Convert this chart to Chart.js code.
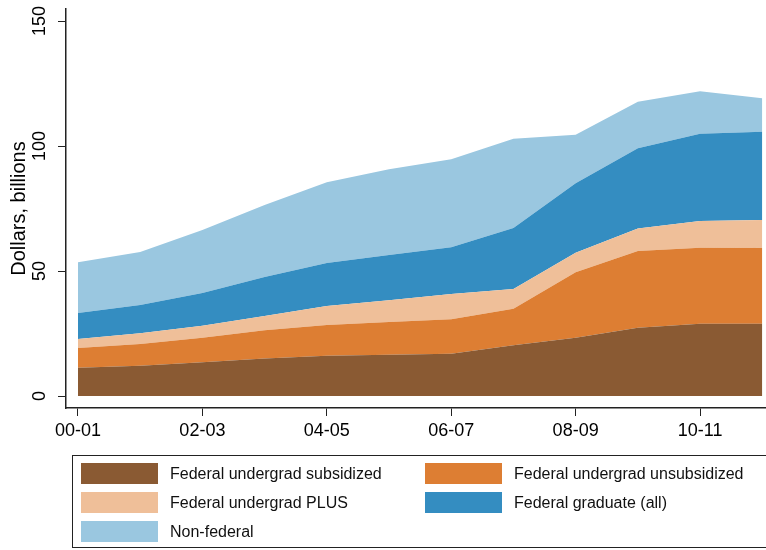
<!DOCTYPE html>
<html lang="en">
<head>
<meta charset="UTF-8">
<title>Student loans by type</title>
<style>
  body { margin: 0; background: #fff; }
  #wrap { position: relative; width: 766px; height: 550px; overflow: hidden; }
  #legend {
    position: absolute; left: 72px; top: 455px; width: 700px; height: 93px;
    border: 1.5px solid #222; box-sizing: border-box;
    font-family: "Liberation Sans", Arial, Helvetica, sans-serif; font-size: 16px; color: #111;
  }
  .item { position: absolute; height: 21px; line-height: 21px; white-space: nowrap; }
  .sw { position: absolute; left: 0; top: 0; width: 77px; height: 21px; }
  .lb { position: absolute; left: 89px; top: 0; }
</style>
</head>
<body>
<div id="wrap">
  <canvas id="myChart" width="766" height="550"></canvas>
  <div id="legend"></div>
</div>

<script src="https://cdn.jsdelivr.net/npm/chart.js@4/dist/chart.umd.min.js"></script>
<script>
const years = ['00-01', '01-02', '02-03', '03-04', '04-05', '05-06', '06-07', '07-08', '08-09', '09-10', '10-11', '11-12'];
const yTicks = [0, 50, 100, 150];

// billions of dollars
const subsidized   = [11.3, 12.1, 13.5, 15.0, 16.1, 16.5, 16.9, 20.3, 23.3, 27.3, 28.9, 28.9];
const unsubsidized = [7.9, 8.7, 9.8, 11.3, 12.3, 13.1, 13.8, 14.6, 26.2, 30.7, 30.4, 30.3];
const plus         = [3.6, 4.3, 4.8, 5.7, 7.6, 8.7, 10.1, 7.9, 7.8, 9.0, 10.7, 11.2];
const graduate     = [10.4, 11.3, 13.1, 15.6, 17.2, 18.1, 18.7, 24.4, 27.8, 32.1, 34.9, 35.3];
const nonFederal   = [20.3, 21.2, 25.2, 28.8, 32.3, 34.3, 35.2, 35.7, 19.4, 18.6, 17.0, 13.4];

const series = [
  { label: 'Federal undergrad subsidized',   data: subsidized,   color: '#8a5a33' },
  { label: 'Federal undergrad unsubsidized', data: unsubsidized, color: '#dd7e33' },
  { label: 'Federal undergrad PLUS',         data: plus,         color: '#efbf99' },
  { label: 'Federal graduate (all)',         data: graduate,     color: '#348dc1' },
  { label: 'Non-federal',                    data: nonFederal,   color: '#9ac7e0' }
];

const font = "'Liberation Sans', Arial, Helvetica, sans-serif";
const ink = '#222';

// keep the plot box where the layout padding puts it
function noPad(s) {
  s.paddingTop = 0; s.paddingBottom = 0; s.paddingLeft = 0; s.paddingRight = 0;
}

const ctx = document.getElementById('myChart').getContext('2d');
const chart = new Chart(ctx, {
  type: 'line',
  data: {
    datasets: series.map((s, i) => ({
      label: s.label,
      data: s.data.map((v, j) => ({ x: j, y: v })),
      backgroundColor: s.color,
      borderColor: s.color,
      borderWidth: 0,
      pointRadius: 0,
      tension: 0,
      fill: i === 0 ? 'origin' : '-1'
    }))
  },
  options: {
    responsive: false,
    animation: false,
    layout: { padding: { top: 9, right: 0, bottom: 105, left: 0 } },
    plugins: { legend: { display: false }, tooltip: { enabled: false } },
    scales: {
      x: {
        type: 'linear',
        min: -0.1925,
        max: 11.06,
        afterBuildTicks: s => { s.ticks = [0, 2, 4, 6, 8, 10].map(v => ({ value: v })); },
        afterFit: s => { s.height = 37; noPad(s); },
        border: { color: ink, width: 1.5 },
        grid: { drawOnChartArea: false, tickLength: 8, color: ink, tickWidth: 1 },
        ticks: {
          maxRotation: 0, minRotation: 0, padding: 4, color: '#000',
          font: { family: font, size: 18 },
          callback: v => years[v]
        }
      },
      y: {
        stacked: true,
        min: -4.8,
        max: 154.8,
        afterBuildTicks: s => { s.ticks = yTicks.map(v => ({ value: v })); },
        afterFit: s => { s.width = 66; noPad(s); },
        border: { color: ink, width: 1.5 },
        grid: { drawOnChartArea: false, tickLength: 8, color: ink, tickWidth: 1 },
        ticks: {
          minRotation: 90, maxRotation: 90, crossAlign: 'center', padding: 3, color: '#000',
          font: { family: font, size: 18 }
        },
        title: {
          display: true, text: 'Dollars, billions', color: '#000',
          font: { family: font, size: 20 }, padding: { top: 7, bottom: 0 }
        }
      }
    }
  }
});

// legend built from the chart's datasets: two columns, filled row by row
const legend = document.getElementById('legend');
chart.data.datasets.forEach((ds, i) => {
  const item = document.createElement('div');
  item.className = 'item';
  item.style.left = (i % 2 === 0 ? 8 : 352) + 'px';
  item.style.top = (7 + Math.floor(i / 2) * 29) + 'px';
  item.innerHTML = '<span class="sw" style="background:' + ds.backgroundColor + '"></span>' +
                   '<span class="lb">' + ds.label + '</span>';
  legend.appendChild(item);
});
</script>
</body>
</html>
